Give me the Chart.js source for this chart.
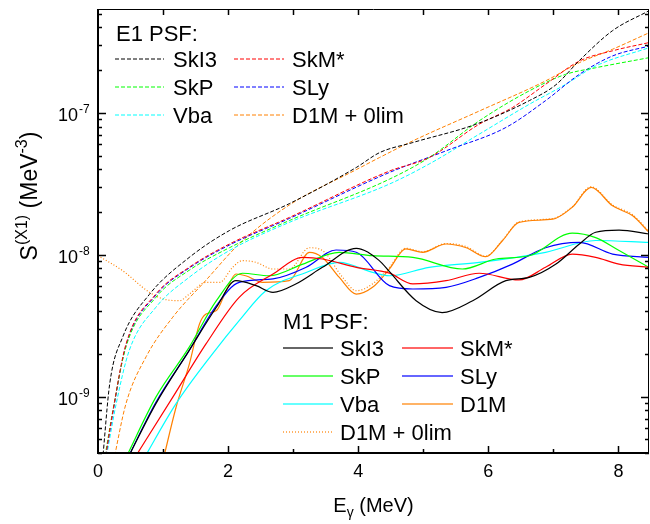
<!DOCTYPE html>
<html>
<head>
<meta charset="utf-8">
<script src="https://cdn.jsdelivr.net/npm/chart.js@4"></script>
<style>
  body { margin: 0; background: #fff; }
  canvas { display: block; }
</style>
</head>
<body>
<canvas id="psfChart" width="650" height="524"></canvas>
<script>
// E1 strength functions (dashed)
const e1SkI3E = [0.07, 0.18, 0.38, 0.79, 1.4, 2.02, 2.94, 3.97, 4.33, 4.84, 5.81, 6.63, 7.04, 7.40, 7.91, 8.47];
const e1SkI3S = [3.55e-10, 1.23e-9, 2.63e-9, 5.25e-9, 9.55e-9, 1.48e-8, 2.29e-8, 4.12e-8, 5.25e-8, 6.18e-8, 8.32e-8, 1.22e-7, 1.58e-7, 2.34e-7, 3.80e-7, 5.25e-7];
const e1SkMsE = [0.09, 0.23, 0.43, 0.89, 1.4, 2.02, 2.94, 4.48, 5.09, 5.86, 6.37, 6.88, 7.40, 7.91, 8.47];
const e1SkMsS = [3.16e-10, 7.94e-10, 2.34e-9, 5.28e-9, 8.15e-9, 1.19e-8, 1.83e-8, 3.89e-8, 4.84e-8, 8.32e-8, 1.09e-7, 1.59e-7, 2.32e-7, 2.74e-7, 3.13e-7];
const e1SkPE = [0.08, 0.22, 0.43, 0.89, 1.4, 2.02, 2.94, 4.48, 5.09, 5.86, 6.63, 7.19, 7.65, 8.47];
const e1SkPS = [3.16e-10, 7.59e-10, 2.24e-9, 5.01e-9, 7.76e-9, 1.12e-8, 1.74e-8, 3.41e-8, 4.84e-8, 8.79e-8, 1.43e-7, 1.87e-7, 2.08e-7, 2.45e-7];
const e1SLyE = [0.09, 0.23, 0.43, 0.89, 1.4, 2.02, 2.94, 4.48, 5.35, 6.27, 6.88, 7.40, 7.91, 8.47];
const e1SLyS = [3.16e-10, 7.76e-10, 2.29e-9, 5.19e-9, 8.04e-9, 1.17e-8, 1.80e-8, 3.80e-8, 5.40e-8, 7.89e-8, 1.22e-7, 1.87e-7, 2.52e-7, 2.96e-7];
const e1VbaE = [0.10, 0.28, 0.48, 0.89, 1.4, 2.02, 2.94, 4.48, 5.09, 5.86, 6.63, 7.19, 7.65, 8.47];
const e1VbaS = [3.16e-10, 8.91e-10, 2.11e-9, 4.26e-9, 6.92e-9, 1.07e-8, 1.69e-8, 3.15e-8, 4.36e-8, 7.08e-8, 1.15e-7, 1.59e-7, 2.14e-7, 2.88e-7];
const e1D1mE = [0.22, 0.43, 0.74, 1.15, 1.66, 2.17, 2.94, 3.97, 4.33, 4.84, 5.86, 6.88, 7.40, 7.91, 8.47];
const e1D1mS = [3.16e-10, 8.91e-10, 1.91e-9, 3.63e-9, 6.61e-9, 1.19e-8, 2.24e-8, 3.98e-8, 4.85e-8, 6.35e-8, 1.03e-7, 1.68e-7, 2.26e-7, 2.81e-7, 3.67e-7];

// M1 strength functions (solid, one dotted)
const m1SkI3E = [0.44, 0.89, 1.4, 1.82, 2.12, 2.43, 2.69, 3.04, 3.45, 3.97, 4.32, 4.48, 4.89, 5.29, 5.76, 6.27, 6.63, 7.04, 7.40, 7.65, 8.01, 8.47];
const m1SkI3S = [3.55e-10, 8.91e-10, 2.11e-9, 4.26e-9, 6.56e-9, 6.05e-9, 5.43e-9, 6.22e-9, 8.15e-9, 1.11e-8, 9.12e-9, 7.59e-9, 4.74e-9, 3.91e-9, 4.74e-9, 6.56e-9, 6.92e-9, 8.59e-9, 1.19e-8, 1.44e-8, 1.49e-8, 1.40e-8];
const m1SkMsE = [0.54, 1.15, 1.66, 2.17, 2.69, 3.15, 3.45, 3.97, 4.48, 4.84, 5.35, 5.86, 6.47, 6.88, 7.29, 7.65, 8.01, 8.47];
const m1SkMsS = [3.55e-10, 9.91e-10, 2.35e-9, 5.01e-9, 7.31e-9, 9.57e-9, 9.33e-9, 8.15e-9, 7.41e-9, 6.22e-9, 6.56e-9, 7.40e-9, 6.64e-9, 8.15e-9, 1.01e-8, 9.57e-9, 8.59e-9, 8.15e-9];
const m1SkPE = [0.41, 0.89, 1.4, 1.82, 2.22, 2.63, 3.15, 3.71, 4.22, 4.84, 5.60, 6.12, 6.63, 7.29, 7.65, 8.01, 8.47];
const m1SkPS = [3.55e-10, 9.91e-10, 2.22e-9, 4.74e-9, 7.40e-9, 7.11e-9, 8.59e-9, 1.04e-8, 9.84e-9, 9.57e-9, 7.93e-9, 9.33e-9, 9.84e-9, 1.42e-8, 1.32e-8, 1.07e-8, 8.15e-9];
const m1SLyE = [0.44, 0.89, 1.4, 1.82, 2.17, 2.69, 3.20, 3.66, 3.97, 4.48, 4.84, 5.35, 5.86, 6.37, 6.88, 7.40, 7.91, 8.47];
const m1SLyS = [3.55e-10, 9.12e-10, 2.11e-9, 4.38e-9, 6.38e-9, 6.75e-9, 8.15e-9, 1.08e-8, 1.04e-8, 6.05e-9, 5.73e-9, 5.89e-9, 6.92e-9, 8.59e-9, 1.12e-8, 1.22e-8, 1.01e-8, 9.57e-9];
const m1VbaE = [0.69, 1.20, 1.76, 2.17, 2.58, 3.20, 3.71, 4.22, 4.48, 5.09, 5.86, 6.88, 7.65, 8.47];
const m1VbaS = [3.55e-10, 8.91e-10, 2.00e-9, 3.43e-9, 5.57e-9, 7.50e-9, 8.83e-9, 7.50e-9, 7.11e-9, 8.15e-9, 8.83e-9, 1.04e-8, 1.26e-8, 1.22e-8];
const m1D1mE = [1.0, 1.20, 1.405, 1.56, 1.66, 1.82, 1.97, 2.12, 2.27, 2.53, 2.94, 3.25, 3.45, 3.71, 3.97, 4.22, 4.48, 4.73, 4.99, 5.35, 5.66, 5.96, 6.22, 6.47, 6.99, 7.29, 7.58, 7.91, 8.22, 8.47];
const m1D1mS = [3.55e-10, 8.41e-10, 1.70e-9, 3.25e-9, 3.82e-9, 4.04e-9, 5.57e-9, 7.31e-9, 7.11e-9, 6.38e-9, 6.56e-9, 1.04e-8, 9.57e-9, 6.92e-9, 5.28e-9, 5.89e-9, 7.94e-9, 1.10e-8, 1.04e-8, 1.19e-8, 1.12e-8, 9.68e-9, 1.26e-8, 1.69e-8, 1.78e-8, 2.16e-8, 2.98e-8, 2.21e-8, 1.88e-8, 1.44e-8];
const m1D1m0E = [0.0, 0.38, 0.79, 1.0, 1.25, 1.405, 1.66, 1.87, 2.07, 2.22, 2.43, 2.69, 2.94, 3.25, 3.45, 3.76, 3.97, 4.22, 4.48, 4.73, 4.99, 5.35, 5.66, 5.96, 6.22, 6.47, 6.99, 7.29, 7.58, 7.91, 8.22, 8.47];
const m1D1m0S = [9.84e-9, 7.71e-9, 5.43e-9, 4.88e-9, 4.74e-9, 5.28e-9, 6.38e-9, 6.38e-9, 8.15e-9, 9.08e-9, 8.83e-9, 7.93e-9, 7.93e-9, 1.12e-8, 1.07e-8, 6.92e-9, 5.57e-9, 6.22e-9, 8.15e-9, 1.11e-8, 1.05e-8, 1.20e-8, 1.14e-8, 9.77e-9, 1.27e-8, 1.70e-8, 1.80e-8, 2.18e-8, 3.01e-8, 2.24e-8, 1.91e-8, 1.45e-8];

// axes
const xTickValues = [0, 2, 4, 6, 8];
const xTickLabels = ['0', '2', '4', '6', '8'];
const yTickValues = [1e-9, 1e-8, 1e-7];
const yTickExponents = ['-9', '-8', '-7'];

const FONT = '"Liberation Sans", Arial, sans-serif';
const BLACK = '#000000', RED = '#ff0000', GREEN = '#00ff00', BLUE = '#0000ff', CYAN = '#00ffff', ORANGE = '#ff8000';

function pts(xs, ys) {
    return xs.map((x, i) => ({ x: x, y: ys[i] }));
}

function line(label, group, xs, ys, color, dash) {
    return {
        label: label,
        group: group,
        data: pts(xs, ys),
        borderColor: color,
        borderDash: dash,
        borderWidth: group === 'E1' ? 1 : 1.2,
        pointRadius: 0,
        fill: false,
        cubicInterpolationMode: 'monotone'
    };
}

const DASH = [4, 2];
const DOT = [1, 2];

const datasets = [
    line('SkI3', 'E1', e1SkI3E, e1SkI3S, BLACK, DASH),
    line('SkM*', 'E1', e1SkMsE, e1SkMsS, RED, DASH),
    line('SkP', 'E1', e1SkPE, e1SkPS, GREEN, DASH),
    line('SLy', 'E1', e1SLyE, e1SLyS, BLUE, DASH),
    line('Vba', 'E1', e1VbaE, e1VbaS, CYAN, DASH),
    line('D1M + 0lim', 'E1', e1D1mE, e1D1mS, ORANGE, DASH),
    line('SkI3', 'M1', m1SkI3E, m1SkI3S, BLACK, []),
    line('SkM*', 'M1', m1SkMsE, m1SkMsS, RED, []),
    line('SkP', 'M1', m1SkPE, m1SkPS, GREEN, []),
    line('SLy', 'M1', m1SLyE, m1SLyS, BLUE, []),
    line('Vba', 'M1', m1VbaE, m1VbaS, CYAN, []),
    line('D1M', 'M1', m1D1mE, m1D1mS, ORANGE, []),
    line('D1M + 0lim', 'M1', m1D1m0E, m1D1m0S, ORANGE, DOT)
];

// draws text made of runs with different sizes / vertical shifts
function drawRuns(ctx, runs, x, y) {
    let w = 0;
    runs.forEach(r => { ctx.font = r[1] + 'px ' + FONT; w += ctx.measureText(r[0]).width; });
    let cx = x - w / 2;
    runs.forEach(r => {
        ctx.font = r[1] + 'px ' + FONT;
        ctx.fillText(r[0], cx, y + r[2]);
        cx += ctx.measureText(r[0]).width;
    });
}

const framePlugin = {
    id: 'frame',
    afterDraw(chart) {
        const ctx = chart.ctx;
        const a = chart.chartArea;
        const xs = chart.scales.x, ys = chart.scales.y;
        ctx.save();
        ctx.strokeStyle = '#000';
        ctx.fillStyle = '#000';

        // frame
        ctx.lineWidth = 1;
        ctx.beginPath();
        ctx.moveTo(a.left, a.top + 0.5); ctx.lineTo(a.right, a.top + 0.5);
        ctx.moveTo(a.right - 0.5, a.top); ctx.lineTo(a.right - 0.5, a.bottom);
        ctx.stroke();
        ctx.lineWidth = 2;
        ctx.beginPath();
        ctx.moveTo(a.left, a.top); ctx.lineTo(a.left, a.bottom + 1);
        ctx.moveTo(a.left - 1, a.bottom); ctx.lineTo(a.right, a.bottom);
        ctx.stroke();

        // x ticks (inside)
        ctx.lineWidth = 1.5;
        ctx.beginPath();
        for (let v = 1; v <= 8; v++) {
            const px = Math.round(xs.getPixelForValue(v)) + 0.5;
            const len = v % 2 === 0 ? 7 : 4;
            ctx.moveTo(px, a.bottom); ctx.lineTo(px, a.bottom - len);
            ctx.moveTo(px, a.top); ctx.lineTo(px, a.top + 6);
        }
        // y ticks (log, inside, both sides)
        for (let d = -10; d <= -6; d++) {
            for (let m = 1; m <= 9; m++) {
                const v = m * Math.pow(10, d);
                if (v < ys.min || v > ys.max) continue;
                const py = Math.round(ys.getPixelForValue(v)) + 0.5;
                const len = m === 1 ? 8 : 4;
                ctx.moveTo(a.left, py); ctx.lineTo(a.left + len, py);
                ctx.moveTo(a.right, py); ctx.lineTo(a.right - len, py);
            }
        }
        ctx.stroke();

        // tick labels
        ctx.textBaseline = 'alphabetic';
        ctx.textAlign = 'center';
        ctx.font = '18px ' + FONT;
        xTickValues.forEach((v, i) => {
            ctx.fillText(xTickLabels[i], xs.getPixelForValue(v), 477);
        });
        yTickValues.forEach((v, i) => {
            const py = ys.getPixelForValue(v);
            ctx.textAlign = 'right';
            ctx.font = '18px ' + FONT;
            ctx.fillText('10', 78, py + 8);
            ctx.textAlign = 'left';
            ctx.font = '12px ' + FONT;
            ctx.fillText(yTickExponents[i], 79, py);
        });

        // axis titles
        ctx.textAlign = 'left';
        drawRuns(ctx, [['E', 20, 0], ['\u03b3', 14, 5], [' (MeV)', 20, 0]], (a.left + a.right) / 2, 512);
        ctx.save();
        ctx.translate(37, 196);
        ctx.rotate(-Math.PI / 2);
        drawRuns(ctx, [['S', 23, 0], ['(X1)', 16, -10], [' (MeV', 23, 0], ['-3', 16, -10], [')', 23, 0]], 0, 0);
        ctx.restore();

        // legends
        const boxes = {
            E1: { hx: 116, hy: 33, y0: 59, dy: 28, cols: [[115, 164, 173], [234, 284, 292]], width: 1, alpha: 1 },
            M1: { hx: 283, hy: 321, y0: 348, dy: 28, cols: [[283, 333, 340], [402, 453, 460]], width: 2, alpha: 0.6 }
        };
        Object.keys(boxes).forEach(g => {
            const b = boxes[g];
            ctx.font = '22px ' + FONT;
            ctx.fillStyle = '#000';
            ctx.fillText(g + ' PSF:', b.hx, b.hy + 8);
            chart.data.datasets.filter(ds => ds.group === g).forEach((ds, k) => {
                const col = b.cols[k % 2];
                const y = b.y0 + Math.floor(k / 2) * b.dy;
                ctx.save();
                ctx.globalAlpha = b.alpha;
                ctx.strokeStyle = ds.borderColor;
                ctx.lineWidth = b.width;
                ctx.setLineDash(ds.borderDash);
                ctx.beginPath();
                ctx.moveTo(col[0], y); ctx.lineTo(col[1], y);
                ctx.stroke();
                ctx.restore();
                ctx.fillText(ds.label, col[2], y + 8);
            });
        });
        ctx.restore();
    }
};

new Chart(document.getElementById('psfChart'), {
    type: 'line',
    data: { datasets: datasets },
    options: {
        responsive: false,
        animation: false,
        devicePixelRatio: 1,
        layout: { padding: { top: 9, right: 1, left: 0, bottom: 0 } },
        plugins: { legend: { display: false }, tooltip: { enabled: false } },
        scales: {
            x: {
                type: 'linear', min: 0, max: 8.47,
                grid: { display: false, drawTicks: false },
                border: { display: false },
                ticks: { display: false },
                afterFit: s => { s.height = 71; }
            },
            y: {
                type: 'logarithmic', min: 4e-10, max: 5.4e-7,
                grid: { display: false, drawTicks: false },
                border: { display: false },
                ticks: { display: false },
                afterFit: s => { s.width = 98; }
            }
        }
    },
    plugins: [framePlugin]
});
</script>
</body>
</html>
